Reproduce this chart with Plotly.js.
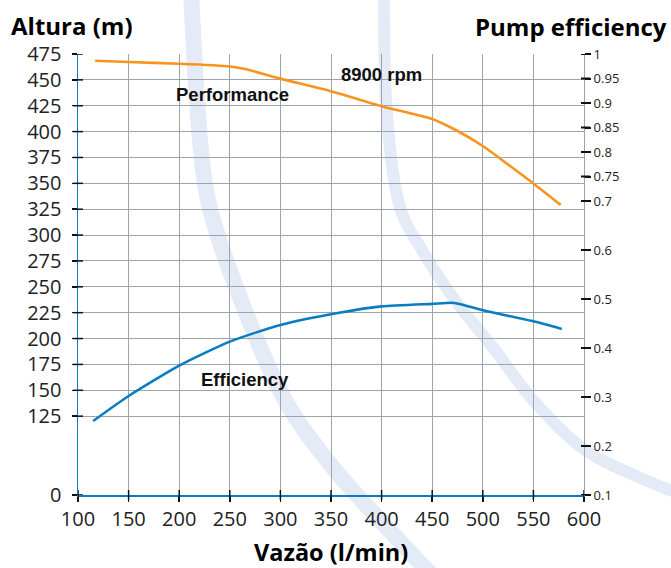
<!DOCTYPE html>
<html>
<head>
<meta charset="utf-8">
<script src="https://cdn.plot.ly/plotly-3.0.1.min.js"></script>
<style>html,body{margin:0;padding:0;background:#fff;}#chart{width:671px;height:568px;}</style>
</head>
<body>
<div id="chart"></div>
<script>
// ---- data ----
const flowPerformance = [117, 150, 200, 250, 265, 300, 350, 400, 450, 475, 500, 525, 550, 577];
const headPerformance = [468.5, 467.2, 465.6, 463, 460.5, 451.2, 439, 424.5, 412.2, 400.6, 386.1, 368.2, 349.9, 329.1];
const flowEfficiency = [115, 150, 200, 250, 300, 358, 400, 450, 472, 500, 549, 578];
const pumpEfficiency = [0.251, 0.302, 0.364, 0.413, 0.447, 0.472, 0.485, 0.490, 0.492, 0.477, 0.455, 0.439];
const xTicks = [100, 150, 200, 250, 300, 350, 400, 450, 500, 550, 600];
const headTickLabels = ['0', '125', '150', '175', '200', '225', '250', '275', '300', '325', '350', '375', '400', '425', '450', '475'];
const effTicks = [0.1, 0.2, 0.3, 0.4, 0.5, 0.6, 0.7, 0.75, 0.8, 0.85, 0.9, 0.95, 1];

// ---- layout geometry ----
const M = {l: 78, r: 87, t: 54, b: 73};
const W = 671, H = 568;
const PW = W - M.l - M.r, PH = H - M.t - M.b;
const HEAD_BOTTOM = 48.8; // compressed break: "0" label sits at the bottom edge
const headTickVals = headTickLabels.map(t => t === '0' ? HEAD_BOTTOM : Number(t));
const px = x => (x - M.l) / PW;
const py = y => (H - M.b - y) / PH;

function smoothPath(pts) {
  const p = pts.map(([x, y]) => [px(x), py(y)]);
  let d = `M${p[0][0]},${p[0][1]}`;
  for (let i = 0; i < p.length - 1; i++) {
    const p0 = p[i - 1] || p[i], p1 = p[i], p2 = p[i + 1], p3 = p[i + 2] || p2;
    const c1 = [p1[0] + (p2[0] - p0[0]) / 6, p1[1] + (p2[1] - p0[1]) / 6];
    const c2 = [p2[0] - (p3[0] - p1[0]) / 6, p2[1] - (p3[1] - p1[1]) / 6];
    d += ` C${c1[0]},${c1[1]} ${c2[0]},${c2[1]} ${p2[0]},${p2[1]}`;
  }
  return d;
}
const arcA = [[191, -10], [197, 100], [208, 200], [241, 300], [285, 400], [335, 470], [380, 520], [425, 568], [440, 580]];
const arcB = [[384, -10], [386, 100], [398, 200], [422, 250], [455, 300], [495, 350], [533, 400], [585, 450], [650, 482], [690, 497]];

const tickFont = {family: 'Open Sans, sans-serif', size: 20, color: '#222'};
const gridColor = '#9ea4ad';
const tickColor = '#111';

// crossing tick marks, placed from the tick arrays
const tickShapes = [];
xTicks.forEach(v => tickShapes.push({type: 'line', layer: 'above', xref: 'x', x0: v, x1: v,
  yref: 'paper', ysizemode: 'pixel', yanchor: 0, y0: -5, y1: 5, line: {color: tickColor, width: 1.5}}));
headTickVals.forEach(v => tickShapes.push({type: 'line', layer: 'above', yref: 'y', y0: v, y1: v,
  xref: 'paper', xsizemode: 'pixel', xanchor: 0, x0: -5, x1: 5, line: {color: tickColor, width: 1.5}}));
effTicks.forEach(v => tickShapes.push({type: 'line', layer: 'above', yref: 'y2', y0: v, y1: v,
  xref: 'paper', xsizemode: 'pixel', xanchor: 1, x0: -3, x1: 6, line: {color: tickColor, width: 2}}));

const traces = [
  {x: flowPerformance, y: headPerformance, type: 'scatter', mode: 'lines', xaxis: 'x', yaxis: 'y',
   line: {color: '#f7941d', width: 2.6, shape: 'spline', smoothing: 0.6}, hoverinfo: 'skip'},
  {x: flowEfficiency, y: pumpEfficiency, type: 'scatter', mode: 'lines', xaxis: 'x', yaxis: 'y2',
   line: {color: '#0a7dc1', width: 2.6, shape: 'spline', smoothing: 0.6}, hoverinfo: 'skip'}
];

const layout = {
  width: W, height: H,
  margin: M,
  paper_bgcolor: '#ffffff',
  plot_bgcolor: 'rgba(0,0,0,0)',
  showlegend: false,
  xaxis: {
    range: [100, 600], tickmode: 'array', tickvals: xTicks, ticktext: xTicks.map(String),
    showgrid: true, gridcolor: gridColor, gridwidth: 1,
    showline: true, linecolor: '#0a7dc1', linewidth: 1.5,
    ticks: 'outside', ticklen: 5, tickwidth: 1.5, tickcolor: tickColor,
    tickfont: tickFont, zeroline: false, fixedrange: true
  },
  yaxis: {
    range: [HEAD_BOTTOM, 475], tickmode: 'array', tickvals: headTickVals, ticktext: headTickLabels,
    showgrid: true, gridcolor: gridColor, gridwidth: 1,
    showline: true, linecolor: '#0a7dc1', linewidth: 1.5,
    ticks: 'outside', ticklen: 5, tickwidth: 1.5, tickcolor: tickColor,
    tickfont: tickFont, zeroline: false, fixedrange: true, ticklabelstandoff: 6
  },
  yaxis2: {
    overlaying: 'y', side: 'right', anchor: 'x',
    range: [0.1, 1], tickmode: 'array', tickvals: effTicks, ticktext: effTicks.map(String),
    showgrid: false, showline: true, linecolor: gridColor, linewidth: 1,
    ticks: 'outside', ticklen: 6, tickwidth: 2, tickcolor: tickColor,
    tickfont: {family: 'Open Sans, sans-serif', size: 13, color: '#222'},
    zeroline: false, fixedrange: true
  },
  shapes: [
    {type: 'path', xref: 'paper', yref: 'paper', layer: 'below', path: smoothPath(arcA),
     line: {color: '#e4ebf6', width: 16}},
    {type: 'path', xref: 'paper', yref: 'paper', layer: 'below', path: smoothPath(arcB),
     line: {color: '#e4ebf6', width: 12}}
  ].concat(tickShapes),
  annotations: [
    {text: '<b>Altura (m)</b>', xref: 'paper', yref: 'paper', x: px(9), y: py(25), xanchor: 'left', yanchor: 'middle',
     showarrow: false, font: {family: 'Open Sans, sans-serif', size: 24, color: '#000'}},
    {text: '<b>Pump efficiency</b>', xref: 'paper', yref: 'paper', x: px(669), y: py(26), xanchor: 'right', yanchor: 'middle',
     showarrow: false, font: {family: 'Open Sans, sans-serif', size: 24, color: '#000'}},
    {text: '<b>Vazão (l/min)</b>', xref: 'paper', yref: 'paper', x: px(331), y: py(551.5), xanchor: 'center', yanchor: 'middle',
     showarrow: false, font: {family: 'Open Sans, sans-serif', size: 23.5, color: '#000'}},
    {text: '<b>Performance</b>', xref: 'paper', yref: 'paper', x: px(232.5), y: py(94), xanchor: 'center', yanchor: 'middle',
     showarrow: false, font: {family: 'Liberation Sans, Arial, sans-serif', size: 18.5, color: '#111'}},
    {text: '<b>8900 rpm</b>', xref: 'paper', yref: 'paper', x: px(381.7), y: py(74), xanchor: 'center', yanchor: 'middle',
     showarrow: false, font: {family: 'Liberation Sans, Arial, sans-serif', size: 18.5, color: '#111'}},
    {text: '<b>Efficiency</b>', xref: 'paper', yref: 'paper', x: px(244.7), y: py(379.5), xanchor: 'center', yanchor: 'middle',
     showarrow: false, font: {family: 'Liberation Sans, Arial, sans-serif', size: 18.5, color: '#111'}}
  ]
};

Plotly.newPlot('chart', traces, layout, {staticPlot: true, displayModeBar: false});
</script>
</body>
</html>
